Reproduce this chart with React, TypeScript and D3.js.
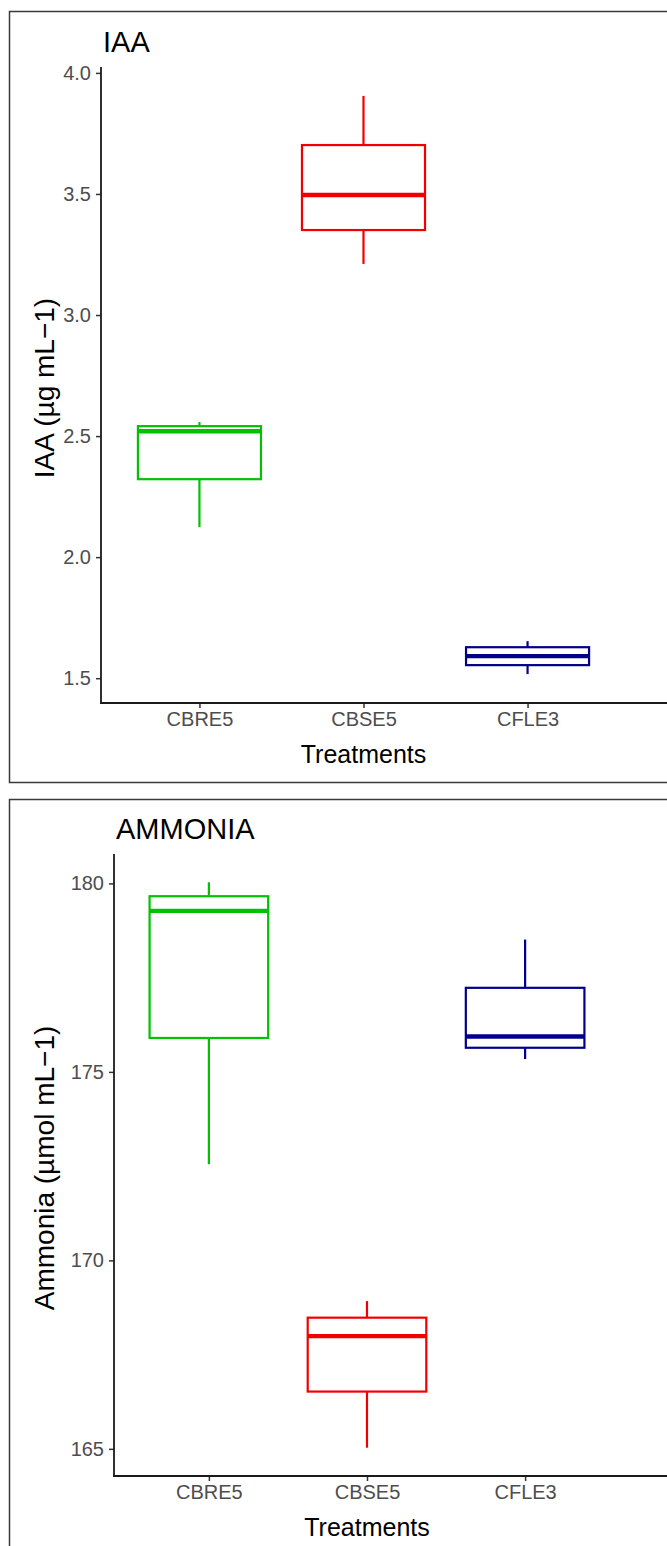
import React, { useEffect, useRef } from "react";
import * as d3 from "d3";

const treatments = ["CBRE5", "CBSE5", "CFLE3"];

// IAA (ug/mL) box statistics per treatment
const iaaMin = [2.124, 3.211, 1.517];
const iaaQ1 = [2.322, 3.351, 1.554];
const iaaMedian = [2.52, 3.496, 1.591];
const iaaQ3 = [2.541, 3.702, 1.628];
const iaaMax = [2.558, 3.905, 1.653];
const iaaTicks = [1.5, 2.0, 2.5, 3.0, 3.5, 4.0];

// Ammonia (umol/mL) box statistics per treatment
const nh3Min = [172.55, 165.03, 175.34];
const nh3Q1 = [175.9, 166.52, 175.64];
const nh3Median = [179.27, 167.99, 175.94];
const nh3Q3 = [179.66, 168.48, 177.23];
const nh3Max = [180.03, 168.92, 178.51];
const nh3Ticks = [165, 170, 175, 180];

const colors = ["#00C200", "#F00000", "#00008B"];
const FONT = "'Liberation Sans', Arial, Helvetica, sans-serif";

const W = 667;
const H = 1546;

const panels = [
  {
    title: "IAA",
    yLabel: "IAA (\u00b5g mL\u22121)",
    min: iaaMin,
    q1: iaaQ1,
    median: iaaMedian,
    q3: iaaQ3,
    max: iaaMax,
    ticks: iaaTicks,
    fmt: d3.format(".1f"),
    frame: { top: 11, bottom: 782 },
    plot: { left: 101, right: 626, top: 67, bottom: 703 },
  },
  {
    title: "AMMONIA",
    yLabel: "Ammonia (\u00b5mol mL\u22121)",
    min: nh3Min,
    q1: nh3Q1,
    median: nh3Median,
    q3: nh3Q3,
    max: nh3Max,
    ticks: nh3Ticks,
    fmt: d3.format("d"),
    frame: { top: 799, bottom: 1560 },
    plot: { left: 114, right: 620, top: 854, bottom: 1476 },
  },
];

function drawPanel(svg, p) {
  const g = svg.append("g");

  g.append("rect")
    .attr("x", 9.5)
    .attr("y", p.frame.top + 0.5)
    .attr("width", W + 20)
    .attr("height", p.frame.bottom - p.frame.top)
    .attr("fill", "white")
    .attr("stroke", "#3a3a3a")
    .attr("stroke-width", 1.5);

  const x = d3
    .scalePoint()
    .domain(treatments)
    .range([p.plot.left, p.plot.right])
    .padding(0.6);
  const step = x.step();
  const boxW = step * 0.75;

  const lo = d3.min(p.min);
  const hi = d3.max(p.max);
  const pad = (hi - lo) * 0.05;
  const y = d3
    .scaleLinear()
    .domain([lo - pad, hi + pad])
    .range([p.plot.bottom, p.plot.top]);

  // axes
  const yAxis = g
    .append("g")
    .attr("transform", `translate(${p.plot.left},0)`)
    .call(d3.axisLeft(y).tickValues(p.ticks).tickFormat(p.fmt).tickSize(5).tickPadding(5));
  yAxis.select(".domain").remove();
  yAxis.selectAll(".tick line").attr("stroke", "#333").attr("stroke-width", 1.5);
  yAxis
    .selectAll(".tick text")
    .attr("fill", "#4d4d4d")
    .attr("font-size", 20)
    .attr("font-family", FONT);

  const xAxis = g
    .append("g")
    .attr("transform", `translate(0,${p.plot.bottom})`)
    .call(d3.axisBottom(x).tickSize(5).tickPadding(4));
  xAxis.select(".domain").remove();
  xAxis.selectAll(".tick line").attr("stroke", "#333").attr("stroke-width", 1.5);
  xAxis
    .selectAll(".tick text")
    .attr("fill", "#4d4d4d")
    .attr("font-size", 20)
    .attr("font-family", FONT);

  g.append("line")
    .attr("x1", p.plot.left)
    .attr("x2", p.plot.left)
    .attr("y1", p.plot.top)
    .attr("y2", p.plot.bottom + 0.8)
    .attr("stroke", "#1a1a1a")
    .attr("stroke-width", 1.8);
  g.append("line")
    .attr("x1", p.plot.left - 0.9)
    .attr("x2", W + 5)
    .attr("y1", p.plot.bottom)
    .attr("y2", p.plot.bottom)
    .attr("stroke", "#1a1a1a")
    .attr("stroke-width", 1.8);

  // boxes
  const rows = treatments.map((t, i) => ({
    t,
    color: colors[i],
    min: p.min[i],
    q1: p.q1[i],
    med: p.median[i],
    q3: p.q3[i],
    max: p.max[i],
  }));

  const box = g.selectAll("g.box").data(rows).enter().append("g").attr("class", "box");

  box
    .append("line")
    .attr("x1", (d) => x(d.t))
    .attr("x2", (d) => x(d.t))
    .attr("y1", (d) => y(d.max))
    .attr("y2", (d) => y(d.q3))
    .attr("stroke", (d) => d.color)
    .attr("stroke-width", 2.2);
  box
    .append("line")
    .attr("x1", (d) => x(d.t))
    .attr("x2", (d) => x(d.t))
    .attr("y1", (d) => y(d.q1))
    .attr("y2", (d) => y(d.min))
    .attr("stroke", (d) => d.color)
    .attr("stroke-width", 2.2);
  box
    .append("rect")
    .attr("x", (d) => x(d.t) - boxW / 2)
    .attr("y", (d) => y(d.q3))
    .attr("width", boxW)
    .attr("height", (d) => y(d.q1) - y(d.q3))
    .attr("fill", "white")
    .attr("stroke", (d) => d.color)
    .attr("stroke-width", 2.2);
  box
    .append("line")
    .attr("x1", (d) => x(d.t) - boxW / 2)
    .attr("x2", (d) => x(d.t) + boxW / 2)
    .attr("y1", (d) => y(d.med))
    .attr("y2", (d) => y(d.med))
    .attr("stroke", (d) => d.color)
    .attr("stroke-width", 4.4);

  // texts
  g.append("text")
    .attr("x", p.plot.left + 2)
    .attr("y", p.plot.top - 15)
    .attr("font-family", FONT)
    .attr("font-size", 29)
    .attr("fill", "black")
    .text(p.title);

  g.append("text")
    .attr("x", (p.plot.left + p.plot.right) / 2)
    .attr("y", p.plot.bottom + 60)
    .attr("text-anchor", "middle")
    .attr("font-family", FONT)
    .attr("font-size", 25)
    .attr("fill", "black")
    .text("Treatments");

  g.append("text")
    .attr(
      "transform",
      `translate(54,${(p.plot.top + p.plot.bottom) / 2 + 3}) rotate(-90)`
    )
    .attr("text-anchor", "middle")
    .attr("font-family", FONT)
    .attr("font-size", 28)
    .attr("fill", "black")
    .text(p.yLabel);
}

export default function App() {
  const ref = useRef(null);

  useEffect(() => {
    const svg = d3.select(ref.current);
    svg.selectAll("*").remove();
    svg.append("rect").attr("width", W).attr("height", H).attr("fill", "white");
    panels.forEach((p) => drawPanel(svg, p));
  }, []);

  return (
    <svg
      ref={ref}
      width={W}
      height={H}
      style={{ position: "absolute", left: 0, top: 0, display: "block" }}
    />
  );
}
